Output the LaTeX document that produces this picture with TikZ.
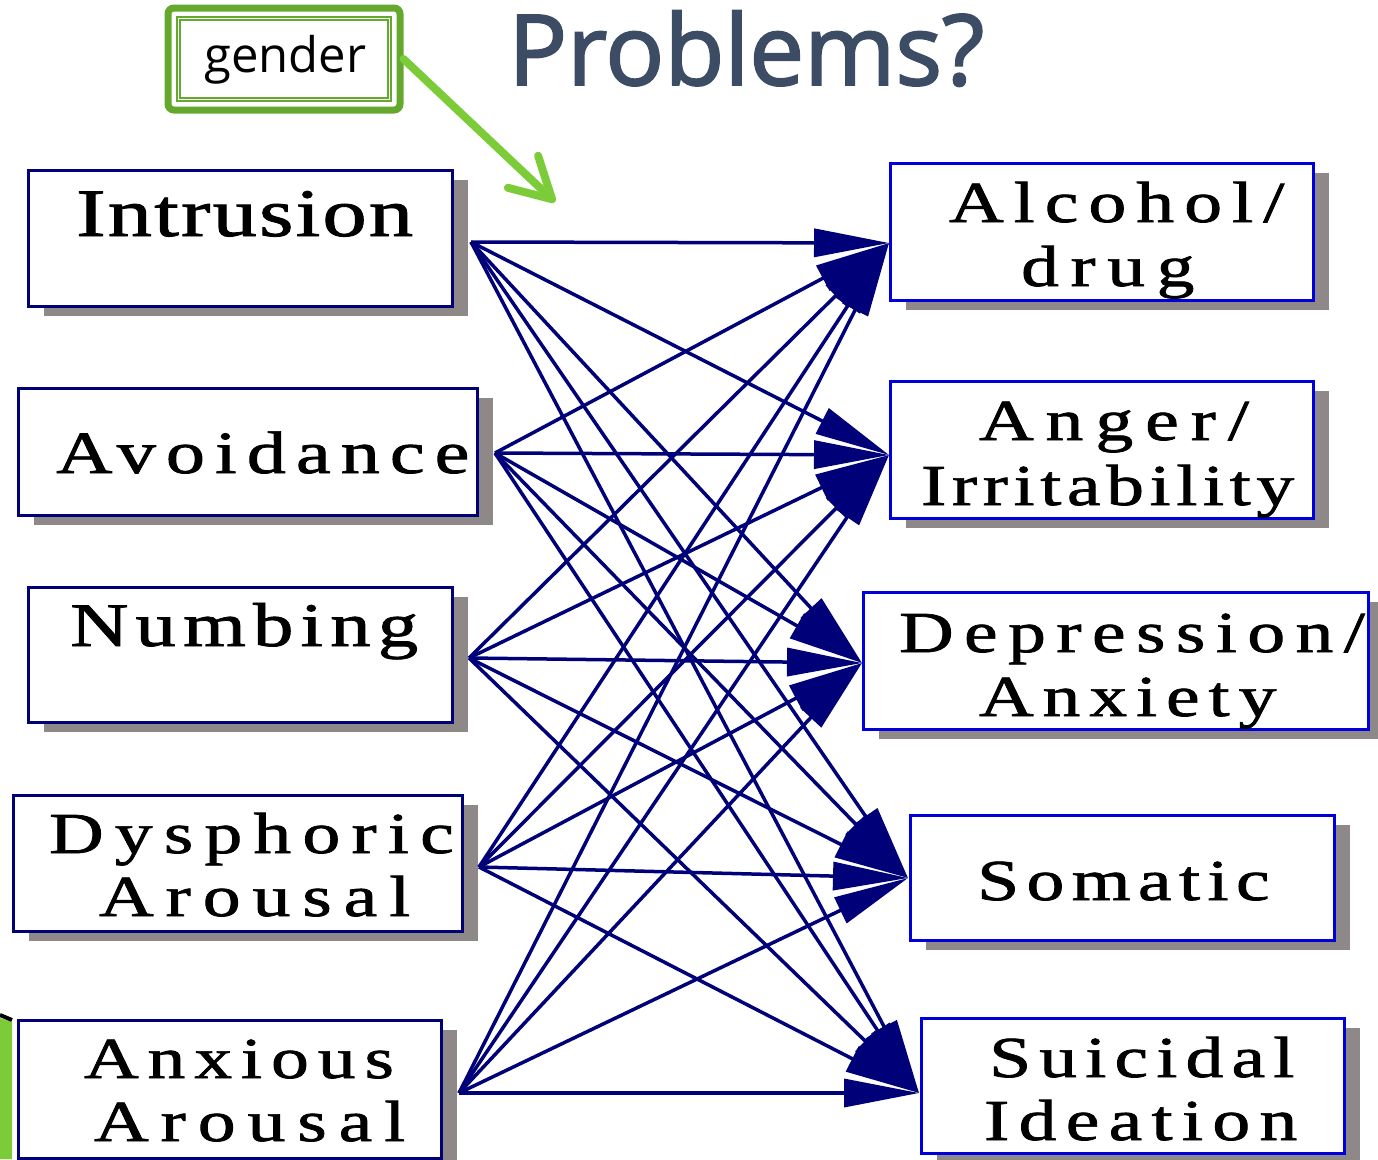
\documentclass[tikz,border=0pt]{standalone}
\usepackage{graphicx}
\usepackage{fontspec}
\setmainfont{Liberation Serif}
\newfontfamily\titlefont{Open Sans}
\usetikzlibrary{arrows.meta,shadows}

\definecolor{navy}{RGB}{0,0,120}
\definecolor{boxblue}{RGB}{0,0,220}
\definecolor{shade}{RGB}{143,136,136}
\definecolor{gdark}{RGB}{100,168,45}
\definecolor{glight}{RGB}{124,204,58}
\definecolor{titleink}{RGB}{60,76,100}

% wide, letter-spaced serif label: size, spacing, text
\newcommand\spacedtext[3]{\scalebox{1.3}[1]{\fontsize{#1}{#1}\selectfont
  \addfontfeatures{LetterSpace=#2,FakeBold=1.2}#3}}

\tikzset{
  factorbox/.style={rectangle, inner sep=0pt, draw=navy, line width=3pt, fill=white,
    drop shadow={shadow xshift=16pt, shadow yshift=-10pt, fill=shade, opacity=1}},
  outcomebox/.style={factorbox, draw=boxblue},
  boxtext/.style={anchor=base west, inner sep=0pt, text=black},
  link/.style={draw=navy, line width=3.5pt, -{Triangle[length=75pt,width=28pt]}},
  garrow/.style={draw=glight, line width=8pt, line cap=round,
    -{Straight Barb[length=40pt,width=44pt,round]}},
}

\begin{document}
\begin{tikzpicture}[x=1pt,y=-1pt]
\useasboundingbox (0,0) rectangle (1378,1159);

% title
\node[anchor=base west, inner sep=0pt, text=titleink] (title) at (508,85)
  {\titlefont\fontsize{98}{100}\selectfont\addfontfeatures{FakeBold=2}Problems?};

% moderator box
\node[rectangle, rounded corners=6pt, draw=gdark, line width=7pt, fill=white,
  minimum width=232pt, minimum height=102pt, inner sep=0pt] (gender) at (284,59) {};
\draw[gdark, line width=1.3pt] (177,17) rectangle (391,101);
\draw[gdark, line width=1.3pt] (180,20) rectangle (388,98);
\node[anchor=base west, inner sep=0pt] (gendertext) at (204,72)
  {\titlefont\fontsize{49}{50}\selectfont gender};
\coordinate (gtip) at (555,202);
\draw[garrow] (gender.east) -- (gtip);

% green strip at lower left
\fill[glight] (0,1018) -- (12,1022) -- (12,1159) -- (0,1159) -- cycle;
\draw[black, line width=4pt] (0,1015) -- (12,1020);

% symptom clusters
\node[factorbox, minimum width=424pt, minimum height=136pt] (intr)  at (240,238) {};
\node[factorbox, minimum width=459pt, minimum height=127pt] (avoid) at (247.5,451.5) {};
\node[factorbox, minimum width=424pt, minimum height=135pt] (numb)  at (240,654.5) {};
\node[factorbox, minimum width=449pt, minimum height=136pt] (dysph) at (237.5,863) {};
\node[factorbox, minimum width=423pt, minimum height=138pt] (anx)   at (229.5,1089) {};

\node[boxtext] at (76,236)   {\spacedtext{68}{2.5}{Intrusion}};
\node[boxtext] at (56,473)   {\spacedtext{60}{13}{Avoidance}};
\node[boxtext] at (70,646)   {\spacedtext{62}{9}{Numbing}};
\node[boxtext] at (49,853)   {\spacedtext{58}{15}{Dysphoric}};
\node[boxtext] at (99,916)   {\spacedtext{58}{16}{Arousal}};
\node[boxtext] at (84,1078)  {\spacedtext{58}{12}{Anxious}};
\node[boxtext] at (94,1141)  {\spacedtext{58}{16}{Arousal}};

% outcomes
\node[outcomebox, minimum width=423pt, minimum height=137pt] (alc) at (1101.5,231.5) {};
\node[outcomebox, minimum width=423pt, minimum height=137pt] (ang) at (1101.5,449.5) {};
\node[outcomebox, minimum width=505pt, minimum height=137pt] (dep) at (1115.5,660.5) {};
\node[outcomebox, minimum width=424pt, minimum height=125pt] (som) at (1122,877.5) {};
\node[outcomebox, minimum width=423pt, minimum height=135pt] (sui) at (1132.5,1085.5) {};

\node[boxtext] at (949,222)   {\spacedtext{58}{13.5}{Alcohol/}};
\node[boxtext] at (1021,286)  {\spacedtext{58}{15.5}{drug}};
\node[boxtext] at (979,440)   {\spacedtext{58}{16}{Anger/}};
\node[boxtext] at (921,505)   {\spacedtext{58}{7.6}{Irritability}};
\node[boxtext] at (899,652)   {\spacedtext{58}{14}{Depression/}};
\node[boxtext] at (979,716)   {\spacedtext{58}{12}{Anxiety}};
\node[boxtext] at (977,900)   {\spacedtext{58}{10}{Somatic}};
\node[boxtext] at (989,1077)  {\spacedtext{58}{11}{Suicidal}};
\node[boxtext] at (984,1140)  {\spacedtext{58}{12.5}{Ideation}};

% connector ends
\coordinate (intr-out)  at (471,242);
\coordinate (avoid-out) at (495,453);
\coordinate (numb-out)  at (469,658);
\coordinate (dysph-out) at (479,867);
\coordinate (anx-out)   at (459,1093);
\coordinate (alc-in) at (889,243);
\coordinate (ang-in) at (889,455);
\coordinate (dep-in) at (862,663);
\coordinate (som-in) at (908,878);
\coordinate (sui-in) at (919,1093);

% every cluster predicts every outcome
\foreach \s in {intr,avoid,numb,dysph,anx}
  \foreach \t in {alc,ang,dep,som,sui}
    \draw[link] (\s-out) -- (\t-in);
\end{tikzpicture}
\end{document}
